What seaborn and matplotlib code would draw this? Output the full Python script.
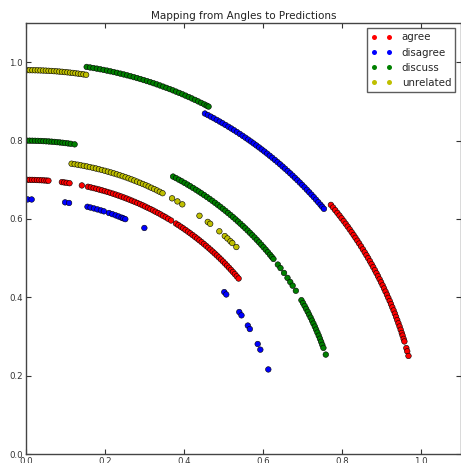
import numpy as np
import pandas as pd
import matplotlib
matplotlib.use('Agg')
import matplotlib.pyplot as plt
from matplotlib.lines import Line2D
import seaborn as sns

# class names and colours (classic r, b, g, y)
stances = ['agree', 'disagree', 'discuss', 'unrelated']
colors = {'agree': '#ff0000', 'disagree': '#0000ff', 'discuss': '#008000', 'unrelated': '#bfbf00'}

# every class sits on two rings: (outer radius, inner radius)
agree_radii = (1.00, 0.70)
disagree_radii = (0.98, 0.65)
discuss_radii = (1.00, 0.80)
unrelated_radii = (0.98, 0.75)

# angles (degrees)
agree_outer = [39.5, 39.0, 38.5, 38.0, 37.5, 37.0, 36.5, 36.0, 35.5, 35.0, 34.5, 34.0, 33.5,
               33.0, 32.5, 32.0, 31.5, 31.0, 30.5, 30.0, 29.5, 29.0, 28.5, 28.0, 27.5, 27.0,
               26.5, 26.0, 25.5, 25.0, 24.5, 24.0, 23.5, 23.0, 22.5, 22.0, 21.5, 21.0, 20.5,
               20.0, 19.5, 19.0, 18.5, 18.0, 17.6, 17.1, 16.7, 15.7, 15.2, 14.5]
agree_inner = [89.8, 89.3, 88.8, 88.3, 87.8, 87.3, 86.8, 86.3, 85.8, 85.4,
               82.6, 82.1, 81.6, 81.0,
               78.4,
               77.1, 76.5, 75.9, 75.3, 74.7, 74.1, 73.5, 72.9, 72.3, 71.7, 71.1, 70.5, 69.9,
               69.3, 68.7, 68.1, 67.5, 66.9, 66.3, 65.7, 65.1, 64.5, 63.9, 63.3, 62.7, 62.1,
               61.5, 60.9, 60.3, 59.7, 59.1, 58.4,
               57.2, 56.6, 56.0, 55.4, 54.8, 54.2, 53.6, 53.0, 52.4, 51.8, 51.2, 50.6, 50.0,
               49.4, 48.8, 48.2, 47.6, 47.0, 46.4, 45.8, 45.2, 44.6, 44.0, 43.4, 42.8, 42.2,
               41.6, 41.0, 40.4, 39.8]
disagree_outer = [62.5, 62.0, 61.5, 61.0, 60.5, 60.0, 59.5, 59.0, 58.5, 58.0, 57.5, 57.0,
                  56.5, 56.0, 55.5, 55.0, 54.5, 54.0, 53.5, 53.0, 52.5, 52.0, 51.5, 51.0,
                  50.5, 50.0, 49.5, 49.0, 48.5, 48.0, 47.5, 47.0, 46.5, 46.0, 45.5, 45.0,
                  44.5, 44.0, 43.5, 43.0, 42.5, 42.0, 41.5, 41.0, 40.5, 40.1, 39.7]
disagree_inner = [89.7, 88.8, 81.3, 80.4,
                  76.2, 75.5, 74.7, 73.9, 73.1, 72.4,
                  71.2, 70.4, 69.6, 68.9, 68.2, 67.8, 67.3,
                  62.6, 39.5, 38.8, 33.9, 33.0, 30.3, 29.4, 25.6, 24.2, 19.4]
discuss_outer = [81.2, 80.7, 80.2, 79.7, 79.2, 78.7, 78.2, 77.7, 77.2, 76.7, 76.2, 75.7,
                 75.2, 74.7, 74.2, 73.7, 73.2, 72.7, 72.2, 71.7, 71.2, 70.7, 70.2, 69.7,
                 69.2, 68.7, 68.2, 67.7, 67.2, 66.7, 66.2, 65.7, 65.2, 64.7, 64.2, 63.7,
                 63.2, 62.8, 62.5]
discuss_inner = [89.9, 89.4, 88.9, 88.4, 87.9, 87.4, 86.9, 86.4, 85.9, 85.4, 84.9, 84.4,
                 83.9, 83.4, 82.9, 82.4, 81.9, 81.2,
                 62.3, 61.7, 61.1, 60.5, 59.9, 59.3, 58.7, 58.1, 57.5, 56.9, 56.3, 55.7,
                 55.1, 54.5, 53.9, 53.3, 52.7, 52.1, 51.5, 50.9, 50.3, 49.7, 49.1, 48.5,
                 47.9, 47.3, 46.7, 46.1, 45.5, 44.9, 44.3, 43.7, 43.1, 42.5, 41.9, 41.3,
                 40.7, 40.1, 39.5, 39.0, 38.5,
                 37.2, 36.4, 35.3, 34.2, 33.3, 32.5, 31.4,
                 29.4, 28.8, 28.2, 27.6, 27.0, 26.4, 25.8, 25.2, 24.6, 24.0, 23.4, 22.8,
                 22.2, 21.6, 21.0, 20.4, 19.8, 18.5]
unrelated_outer = [89.9, 89.5, 89.1, 88.7, 88.3, 87.9, 87.5, 87.1, 86.7, 86.3, 85.9, 85.5,
                   85.1, 84.7, 84.3, 83.9, 83.5, 83.1, 82.7, 82.3, 81.9, 81.5, 81.1]
unrelated_inner = [81.2, 80.6, 80.0, 79.4, 78.8, 78.2, 77.6, 77.0, 76.4, 75.8, 75.2, 74.6,
                   74.0, 73.4, 72.8, 72.2, 71.6, 71.0, 70.4, 69.8, 69.2, 68.6, 68.0, 67.4,
                   66.8, 66.2, 65.6, 65.0, 64.4, 63.8, 63.2, 62.6,
                   60.5, 59.3, 58.2, 54.2, 52.2, 51.6, 49.3, 47.9, 47.2, 46.4, 45.9, 44.8]

rings = {
    'agree': (agree_radii, agree_outer, agree_inner),
    'disagree': (disagree_radii, disagree_outer, disagree_inner),
    'discuss': (discuss_radii, discuss_outer, discuss_inner),
    'unrelated': (unrelated_radii, unrelated_outer, unrelated_inner),
}

rows = []
for name in stances:
    (r_out, r_in), outer, inner = rings[name]
    for ang, r in [(a, r_out) for a in outer] + [(a, r_in) for a in inner]:
        t = np.deg2rad(ang)
        rows.append({'x': r * np.cos(t), 'y': r * np.sin(t), 'stance': name})
df = pd.DataFrame(rows)

sns.set_style('ticks')
plt.rcParams['font.family'] = ['DejaVu Sans']

fig = plt.figure(figsize=(4.61, 4.63), dpi=100)
ax = fig.add_axes([0.057, 0.0194, 0.942, 0.9306])

sns.scatterplot(data=df, x='x', y='y', hue='stance', hue_order=stances, palette=colors,
                s=16, edgecolor='black', linewidth=0.4, legend=False, ax=ax)

ax.set_xlim(0, 1.1)
ax.set_ylim(0, 1.1)
ax.set_xticks([0.0, 0.2, 0.4, 0.6, 0.8, 1.0])
ax.set_yticks([0.0, 0.2, 0.4, 0.6, 0.8, 1.0])
ax.set_xlabel('')
ax.set_ylabel('')
ax.tick_params(direction='in', top=True, right=True, length=3.5, width=0.8, pad=2.5,
               labelsize=6.2, colors='#333333', labelcolor='#333333')
for sp in ax.spines.values():
    sp.set_color('#444444')
    sp.set_linewidth(1.0)
ax.set_title('Mapping from Angles to Predictions', fontsize=7.5, color='#222222', pad=3)

handles = [Line2D([], [], linestyle='', marker='o', color=colors[s], markersize=3.6,
                  markeredgewidth=0) for s in stances]
leg = ax.legend(handles, stances, loc='upper right', numpoints=2, fontsize=7.4,
                frameon=True, fancybox=False, handlelength=2.1, handletextpad=0.9,
                borderaxespad=0.5, labelspacing=0.5)
leg.get_frame().set_edgecolor('#333333')
leg.get_frame().set_linewidth(1.0)

fig.savefig('out.png', dpi=100)
